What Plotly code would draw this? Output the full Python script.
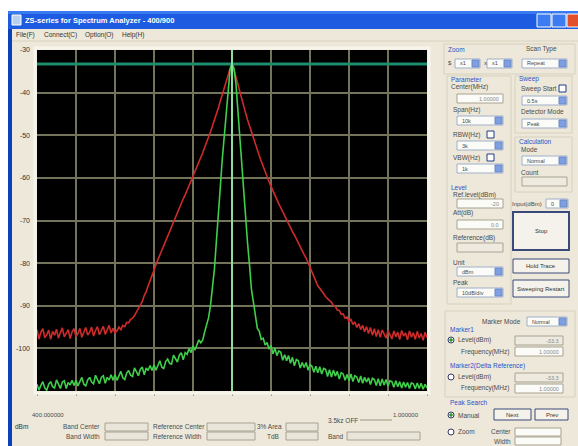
import plotly.graph_objects as go

# ---------------- data ----------------
freq_start, freq_step, n_points = -5.0, 0.05, 201   # frequency grid in divisions
freq = [round(freq_start + freq_step * i, 2) for i in range(n_points)]

y_ticks = [-30, -40, -50, -60, -70, -80, -90, -100]
x_ticks = [-5, -4, -3, -2, -1, 0, 1, 2, 3, 4, 5]
marker_freq = 0.0
ref_line_level = -33.3

green_trace = [
    -108.4, -109.8, -108.7, -107.8, -109.3, -109.8, -108.4, -107.8, -109.0, -109.3,
    -107.4, -108.5, -109.4, -107.9, -107.6, -109.4, -108.0, -108.6, -107.5, -108.7,
    -107.5, -108.8, -107.8, -106.8, -108.4, -108.8, -107.4, -106.8, -107.9, -108.3,
    -106.3, -107.4, -108.3, -106.8, -106.4, -108.2, -106.8, -107.4, -106.2, -107.5,
    -106.2, -107.5, -106.4, -105.4, -106.9, -107.3, -105.8, -105.2, -106.3, -106.6,
    -104.6, -105.7, -106.4, -104.9, -104.4, -106.2, -104.6, -105.2, -104.0, -105.2,
    -103.9, -105.1, -104.0, -102.9, -104.4, -104.7, -103.1, -102.5, -103.5, -103.7,
    -101.6, -102.5, -103.2, -101.6, -101.0, -102.7, -101.0, -101.4, -100.0, -101.0,
    -99.4, -100.4, -99.0, -98.0, -98.7, -98.0, -96.1, -94.6, -92.8, -89.8,
    -85.6, -81.3, -74.8, -69.3, -62.2, -55.7, -50.2, -43.8, -38.1, -34.6,
    -33.0,
    -34.3, -37.8, -44.3, -49.7, -56.4, -61.8, -69.5, -75.4, -80.6, -86.3,
    -89.2, -92.9, -95.3, -96.0, -97.9, -97.6, -99.2, -98.6, -100.2, -99.3,
    -101.3, -99.9, -101.7, -100.6, -100.9, -102.8, -101.5, -102.9, -101.7, -103.5,
    -102.1, -104.1, -102.6, -102.9, -104.6, -103.3, -104.5, -103.3, -105.1, -103.8,
    -104.2, -105.6, -104.2, -105.7, -104.3, -106.0, -104.7, -104.9, -106.6, -105.0,
    -106.7, -105.1, -106.5, -105.4, -107.2, -105.7, -106.0, -107.5, -106.1, -107.6,
    -106.0, -107.8, -106.4, -106.7, -108.0, -106.5, -108.2, -106.8, -107.9, -106.9,
    -108.5, -107.0, -107.3, -108.7, -107.1, -108.8, -107.2, -108.6, -107.3, -108.9,
    -107.6, -107.8, -109.1, -107.6, -109.0, -107.8, -109.3, -107.9, -109.1, -108.0,
    -109.4, -108.1, -108.3, -109.5, -108.1, -109.4, -108.2, -109.6, -108.4, -109.3,
]

red_trace = [
    -95.6, -97.8, -96.2, -95.4, -97.5, -96.8, -95.7, -97.9, -96.0, -96.9,
    -95.5, -97.6, -96.3, -95.2, -97.3, -96.6, -95.6, -97.7, -96.1, -95.4,
    -97.2, -96.5, -95.3, -97.4, -96.0, -95.1, -96.9, -96.2, -95.0, -97.1,
    -95.8, -94.9, -96.8, -95.9, -94.8, -96.7, -95.5, -94.6, -96.4, -95.3,
    -96.3, -95.9, -95.0, -95.6, -94.6, -94.9, -93.9, -94.0, -93.2, -92.9,
    -92.3, -91.5, -90.9, -89.8, -89.0, -87.6, -86.7, -85.3, -84.2, -82.9,
    -81.7, -80.3, -79.2, -77.8, -76.9, -75.6, -74.7, -73.4, -72.5, -71.2,
    -70.4, -69.1, -68.2, -66.9, -66.1, -64.9, -64.0, -62.9, -61.9, -60.8,
    -59.9, -58.6, -57.6, -56.4, -55.3, -54.1, -52.8, -51.7, -50.3, -49.2,
    -47.8, -46.5, -45.0, -43.6, -42.0, -40.6, -39.0, -37.5, -35.9, -34.4,
    -33.0,
    -34.6, -36.4, -38.2, -40.0, -41.7, -43.3, -44.8, -46.4, -47.9, -49.3,
    -50.8, -52.1, -53.5, -54.8, -56.1, -57.4, -58.6, -59.8, -60.9, -62.0,
    -63.1, -64.1, -65.1, -66.1, -67.0, -68.0, -68.9, -69.8, -70.8, -71.6,
    -72.6, -73.4, -74.4, -75.2, -76.2, -77.0, -78.0, -78.8, -79.9, -81.0,
    -82.2, -83.4, -84.3, -85.3, -85.9, -86.7, -87.2, -87.9, -88.3, -88.9,
    -89.2, -90.0, -90.2, -91.0, -91.1, -92.0, -91.9, -92.9, -92.6, -93.7,
    -93.2, -94.4, -93.8, -95.1, -94.2, -95.6, -94.6, -96.1, -94.9, -96.5,
    -95.1, -96.9, -95.4, -97.2, -95.6, -97.4, -95.7, -96.6, -97.6, -95.8,
    -96.9, -97.8, -95.9, -97.3, -96.2, -97.9, -95.8, -97.1, -96.4, -98.0,
    -95.9, -97.4, -96.3, -97.9, -96.0, -97.6, -96.5, -98.1, -96.2, -97.5,
]

# ---------------- layout helpers (window decoration) ----------------
W, H = 578, 446
L, R, T, B = 37, 427, 50, 391


def px(x):
    return (x - L) / (R - L)


def py(y):
    return (B - y) / (B - T)


shapes = []
annotations = []
FONT = "Liberation Sans"


def box(x0, y0, x1, y1, fill, line=None, lw=1, layer="below"):
    shapes.append(dict(type="rect", xref="paper", yref="paper",
                       x0=px(x0), x1=px(x1), y0=py(y1), y1=py(y0),
                       fillcolor=fill, layer=layer,
                       line=dict(color=line if line else fill, width=lw if line else 0)))


def circ(cx, cy, r, fill, line):
    shapes.append(dict(type="circle", xref="paper", yref="paper",
                       x0=px(cx - r), x1=px(cx + r), y0=py(cy + r), y1=py(cy - r),
                       fillcolor=fill, line=dict(color=line, width=1)))


def hline(x0, x1, y, color, lw=1):
    shapes.append(dict(type="line", xref="paper", yref="paper",
                       x0=px(x0), x1=px(x1), y0=py(y), y1=py(y),
                       line=dict(color=color, width=lw)))


def text(x, y, s, size=6.5, color="#4a4a4a", anchor="left", bold=False):
    if bold:
        s = "<b>" + s + "</b>"
    annotations.append(dict(xref="paper", yref="paper", x=px(x), y=py(y), text=s,
                            showarrow=False, xanchor=anchor, yanchor="middle",
                            borderpad=0,
                            font=dict(size=size, color=color, family=FONT)))


def dropdown(x0, y0, x1, y1, label=""):
    box(x0, y0, x1, y1, "#fbfbf8", "#9fb0c8")
    box(x1 - 8, y0 + 1, x1 - 1, y1 - 1, "#7f9fe0", "#6a88c8")
    if label:
        text(x0 + 4, (y0 + y1) / 2, label, size=5.5)


def field(x0, y0, x1, y1, fill="#fbfbf8", label=""):
    box(x0, y0, x1, y1, fill, "#a8a290")
    if label:
        text(x1 - 3, (y0 + y1) / 2, label, size=5.5, color="#888", anchor="right")


def button(x0, y0, x1, y1, label, lw=1):
    box(x0, y0, x1, y1, "#f4f2ea", "#3a4a7a", lw=lw)
    text((x0 + x1) / 2, (y0 + y1) / 2, label, size=6, anchor="center", color="#333")


BLUE = "#2a52c8"

# outer white + window chrome
box(0, 0, W, 11, "#ffffff")
box(0, 0, 8, H, "#ffffff")
box(8, 11, 12, H, "#0b3fbe")
box(8, 11, W, 29, "#1d5ce0")
box(8, 11, W, 14, "#3a7af0")
box(12, 15, 21, 25, "#b8d0f0", "#ffffff")
text(24, 20, "ZS-series for Spectrum Analyzer - 400/900", size=7.5, color="#ffffff", bold=True)
box(537, 14, 551, 27, "#3d7bf0", "#ffffff")
box(552, 14, 566, 27, "#3d7bf0", "#ffffff")
box(567, 14, 580, 27, "#e0512b", "#ffffff")

# menu bar
text(15, 35, "File(F)", size=6.5, color="#333")
text(43, 35, "Connect(C)", size=6.5, color="#333")
text(84, 35, "Option(O)", size=6.5, color="#333")
text(121, 35, "Help(H)", size=6.5, color="#333")
hline(12, W, 41, "#d8d2bf")

# plot frame
shapes.append(dict(type="rect", xref="paper", yref="paper",
                   x0=px(35), x1=px(429), y0=py(393), y1=py(48),
                   line=dict(color="#f7f4ec", width=3), layer="above"))

# ----- right control panel -----
box(444, 44, 575, 74, "rgba(0,0,0,0)", "#d6d0bc")
text(447, 49, "Zoom", color=BLUE)
text(525, 49, "Scan Type")
text(447, 63, "$", size=6)
dropdown(455, 59, 480, 68, "x1")
text(483, 63, "x", size=6)
dropdown(487, 59, 512, 68, "x1")
dropdown(522, 59, 567, 68, "Repeat")

box(447, 76, 511, 304, "rgba(0,0,0,0)", "#d6d0bc")
text(450, 79, "Parameter", color=BLUE)
text(450, 87, "Center(MHz)")
field(457, 94, 503, 103, label="1.00000")
text(452, 110, "Span(Hz)")
dropdown(457, 116, 503, 125, "10k")
text(452, 135, "RBW(Hz)")
box(487, 131, 494, 138, "#ffffff", "#1c3c88")
dropdown(457, 141, 503, 150, "3k")
text(452, 158, "VBW(Hz)")
box(487, 154, 494, 161, "#ffffff", "#1c3c88")
dropdown(457, 164, 503, 173, "1k")
text(450, 187, "Level", color=BLUE)
text(452, 195, "Ref.level(dBm)")
field(457, 199, 503, 208, label="-20")
text(452, 213, "Att(dB)")
field(457, 220, 503, 229, label="0.0")
text(452, 238, "Reference(dB)")
field(457, 243, 503, 252, fill="#eeeae0")
text(452, 262, "Unit")
dropdown(457, 267, 503, 276, "dBm")
text(452, 282, "Peak")
dropdown(457, 288, 503, 297, "10dB/div")

box(515, 76, 572, 133, "rgba(0,0,0,0)", "#d6d0bc")
text(518, 79, "Sweep", color=BLUE)
text(520, 89, "Sweep Start")
box(559, 85, 566, 92, "#ffffff", "#1c3c88")
dropdown(522, 96, 567, 105, "0.5s")
text(520, 112, "Detector Mode")
dropdown(522, 119, 567, 128, "Peak")
box(515, 137, 572, 192, "rgba(0,0,0,0)", "#d6d0bc")
text(518, 141, "Calculation", color=BLUE)
text(520, 149, "Mode")
dropdown(522, 156, 567, 165, "Normal")
text(520, 172, "Count")
field(522, 177, 567, 186, fill="#eeeae0")
text(511, 204, "Input(dBm)", size=6)
dropdown(546, 199, 568, 208, "0")

button(513, 212, 569, 250, "Stop", lw=2)
button(513, 259, 569, 273, "Hold Trace")
button(513, 280, 569, 297, "Sweeping Restart")

box(445, 311, 575, 397, "rgba(0,0,0,0)", "#d6d0bc")
text(481, 321, "Marker Mode")
dropdown(527, 317, 567, 326, "Normal")
text(449, 329, "Marker1", color=BLUE)
circ(451, 340, 3, "#ffffff", "#336")
circ(451, 340, 1.3, "#2a9a2a", "#2a9a2a")
text(457, 340, "Level(dBm)")
field(515, 336, 563, 345, fill="#eeeae0", label="-33.3")
text(460, 352, "Frequency(MHz)")
field(515, 347, 563, 356, label="1.00000")
text(449, 366, "Marker2(Delta Reference)", color=BLUE)
circ(451, 377, 3, "#ffffff", "#336")
text(457, 377, "Level(dBm)")
field(515, 373, 563, 382, fill="#eeeae0", label="-33.3")
text(460, 388, "Frequency(MHz)")
field(515, 384, 563, 393, label="1.00000")

text(449, 402, "Peak Search", color=BLUE)
circ(451, 415, 3, "#ffffff", "#336")
circ(451, 415, 1.3, "#2a9a2a", "#2a9a2a")
text(457, 415, "Manual")
button(494, 409, 531, 420, "Next")
button(535, 409, 568, 420, "Prev")
circ(451, 432, 3, "#ffffff", "#336")
text(457, 432, "Zoom")
text(512, 432, "Center", anchor="right")
field(515, 428, 561, 436)
text(512, 441, "Width", anchor="right")
field(515, 437, 561, 445)

# ----- bottom panel -----
text(31, 415, "400.000000", size=6)
text(420, 415, "1.000000", size=6, anchor="right")
text(14, 427, "dBm", size=6.5, color="#333")
text(62, 427, "Band Center")
field(105, 423, 148, 431, fill="#e9e5da")
text(152, 427, "Reference Center")
field(207, 423, 255, 431, fill="#e9e5da")
text(283, 427, "3% Area", anchor="right")
field(286, 423, 318, 431, fill="#e9e5da")
text(327, 420, "3.5kz OFF")
hline(360, 392, 420, "#9a9480")
text(65, 437, "Band Width")
field(105, 432, 148, 440, fill="#e9e5da")
text(152, 437, "Reference Width")
field(207, 432, 255, 440, fill="#e9e5da")
text(280, 437, "TdB", anchor="right")
field(286, 432, 318, 440, fill="#e9e5da")
text(327, 437, "Band")
field(347, 432, 420, 440, fill="#e9e5da")

# ----- data-anchored marker lines -----
shapes.append(dict(type="line", xref="x", yref="y", x0=freq[0], x1=freq[-1],
                   y0=ref_line_level, y1=ref_line_level,
                   line=dict(color="#1c8c6c", width=3), layer="above"))
shapes.append(dict(type="line", xref="x", yref="paper", x0=marker_freq, x1=marker_freq,
                   y0=0, y1=1, line=dict(color="#8fdca0", width=2), layer="above"))

# ---------------- figure ----------------
fig = go.Figure()
fig.add_trace(go.Scatter(x=freq, y=red_trace, mode="lines",
                         line=dict(color="#cf2b2b", width=1.6), hoverinfo="skip"))
fig.add_trace(go.Scatter(x=freq, y=green_trace, mode="lines",
                         line=dict(color="#3fcf4a", width=1.6), hoverinfo="skip"))

fig.update_layout(
    width=W, height=H,
    margin=dict(l=L, r=W - R, t=T, b=H - B, pad=0),
    paper_bgcolor="#ede8da",
    plot_bgcolor="#000000",
    showlegend=False,
    shapes=shapes,
    annotations=annotations,
    font=dict(family=FONT),
)
fig.update_xaxes(range=[-5, 5], tickvals=x_ticks, showticklabels=False,
                 ticks="outside", ticklen=4, tickcolor="#9a9a90",
                 showgrid=True, gridcolor="#74745a", gridwidth=1.5,
                 zeroline=False, showline=False, fixedrange=True)
fig.update_yaxes(range=[-110, -30], tickvals=y_ticks,
                 ticktext=[str(v) for v in y_ticks],
                 tickfont=dict(size=7, color="#333333", family=FONT),
                 ticks="", ticklabelstandoff=6,
                 showgrid=True, gridcolor="#74745a", gridwidth=1.5,
                 zeroline=False, showline=False, fixedrange=True)

fig.write_html("out.html")
